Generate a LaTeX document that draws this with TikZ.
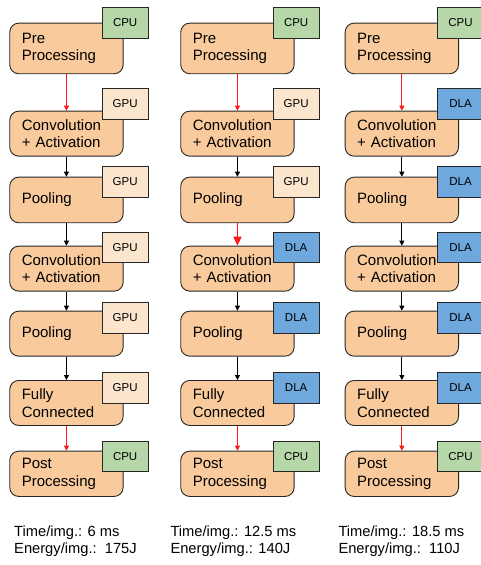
\documentclass[tikz,border=0pt]{standalone}
\usepackage{fontspec}
\setmainfont{Liberation Sans}
\usetikzlibrary{arrows.meta}
\definecolor{stagefill}{HTML}{F9CB9C}
\definecolor{cpufill}{HTML}{B6D7A8}
\definecolor{gpufill}{HTML}{FCE5CD}
\definecolor{dlafill}{HTML}{6FA8DC}
\definecolor{edge}{HTML}{262626}
\definecolor{hotred}{HTML}{FF1A1A}
\tikzset{
  stage/.style={draw=edge, line width=0.9pt, fill=stagefill, rounded corners=9pt,
    anchor=north west, text width=89.4pt, inner xsep=12pt, inner ysep=0pt,
    align=left, font=\fontsize{15}{17.7}\selectfont},
  unit/.style={draw=edge, line width=0.9pt, anchor=north west,
    minimum width=46pt, minimum height=30.5pt, inner sep=0pt,
    font=\fontsize{11.5}{13}\selectfont},
  CPU/.style={fill=cpufill},
  GPU/.style={fill=gpufill},
  DLA/.style={fill=dlafill},
  flow/.style={draw=black, line width=0.8pt, -{Triangle[length=5pt,width=5pt]}},
  hot/.style={draw=hotred, line width=0.8pt, -{Triangle[length=5pt,width=5pt]}},
  hotbig/.style={draw=hotred, line width=1.8pt, -{Triangle[length=9pt,width=8pt]}},
  summary/.style={anchor=west, align=left, inner sep=0pt,
    font=\fontsize{14.7}{17.2}\selectfont}
}
\begin{document}
\begin{tikzpicture}[x=1pt, y=-1pt]
\useasboundingbox (0,0) rectangle (481,565);

% pipeline stages, one column per mapping
\foreach \r/\top/\h/\txt in {
    1/22.7/50.6/{Pre\\Processing},
    2/110.7/45/{Convolution\\+ Activation},
    3/176.7/45.6/{Pooling},
    4/245.7/45/{Convolution\\+ Activation},
    5/310.7/45/{Pooling},
    6/380/45/{Fully\\Connected},
    7/450.7/45.3/{Post\\Processing}}{
  \foreach \c/\x in {1/9.3, 2/180.3, 3/344.7}{
    \node[stage, minimum height=\h pt] (s\c-\r) at (\x,\top) {\txt};
  }
}

% processing unit tags
\foreach \r/\bt/\ua/\ub/\uc in {
    1/7.3/CPU/CPU/CPU,
    2/88.3/GPU/GPU/DLA,
    3/166/GPU/GPU/DLA,
    4/231.7/GPU/DLA/DLA,
    5/302/GPU/DLA/DLA,
    6/372.3/GPU/DLA/DLA,
    7/440.7/CPU/CPU/CPU}{
  \node[unit, \ua] (u1-\r) at (101.7,\bt) {\ua};
  \node[unit, \ub] (u2-\r) at (272.7,\bt) {\ub};
  \node[unit, \uc] (u3-\r) at (437.1,\bt) {\uc};
}

% data flow between stages
\foreach \c in {1,2,3}{
  \draw[hot]  (s\c-1) -- (s\c-2);
  \draw[flow] (s\c-2) -- (s\c-3);
  \draw[flow] (s\c-4) -- (s\c-5);
  \draw[flow] (s\c-5) -- (s\c-6);
  \draw[hot]  (s\c-6) -- (s\c-7);
}
\draw[flow]   (s1-3) -- (s1-4);
\draw[hotbig] (s2-3) -- (s2-4);
\draw[flow]   (s3-3) -- (s3-4);

% per-image cost of each mapping
\node[summary] (t1) at (14,541.5)    {Time/img.: 6 ms\\Energy/img.:\ \ 175J};
\node[summary] (t2) at (170.3,541.5) {Time/img.: 12.5 ms\\Energy/img.: 140J};
\node[summary] (t3) at (338.3,541.5) {Time/img.: 18.5 ms\\Energy/img.:\ \ 110J};
\end{tikzpicture}
\end{document}
